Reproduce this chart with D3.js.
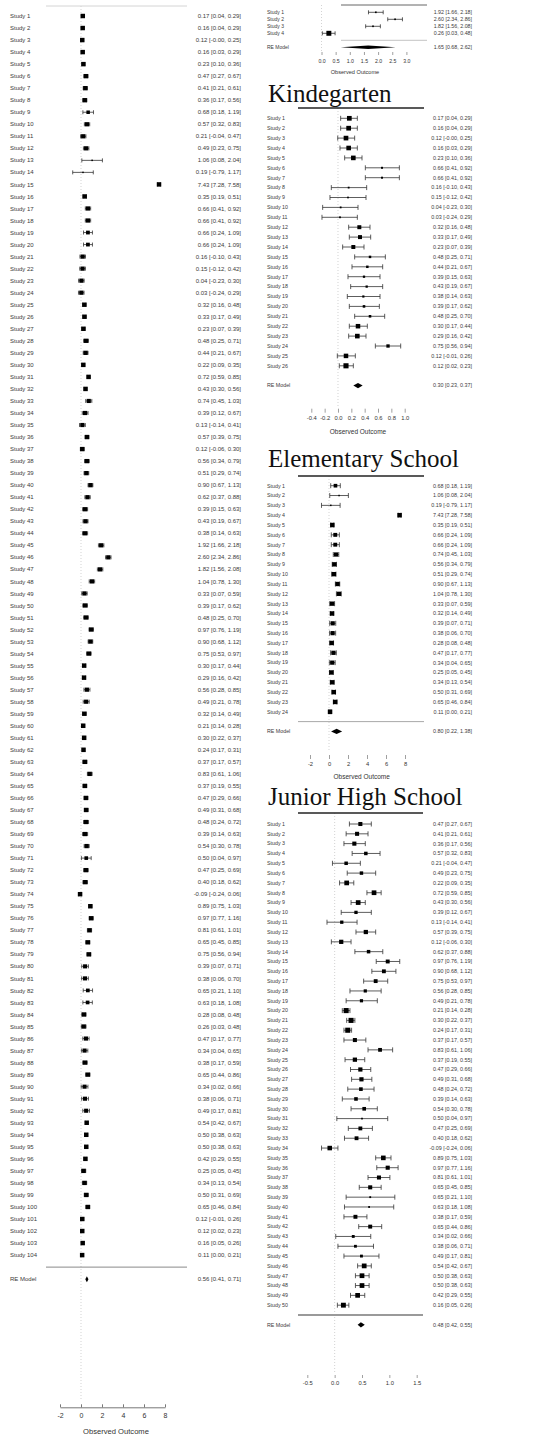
<!DOCTYPE html>
<html>
<head>
<meta charset="utf-8">
<script src="https://cdn.jsdelivr.net/npm/d3@7"></script>
<style>
  body { margin: 0; background: #fff; }
  svg { display: block; }
</style>
</head>
<body>
<svg id="chart" width="558" height="1436"></svg>
<script>
// Effect size and 95% CI for each of the 104 studies in the pooled analysis
const studyEst = [
  0.17, 0.16, 0.12, 0.16, 0.23, 0.47, 0.41, 0.36, 0.68, 0.57,
  0.21, 0.49, 1.06, 0.19, 7.43, 0.35, 0.66, 0.66, 0.66, 0.66,
  0.16, 0.15, 0.04, 0.03, 0.32, 0.33, 0.23, 0.48, 0.44, 0.22,
  0.72, 0.43, 0.74, 0.39, 0.13, 0.57, 0.12, 0.56, 0.51, 0.90,
  0.62, 0.39, 0.43, 0.38, 1.92, 2.60, 1.82, 1.04, 0.33, 0.39,
  0.48, 0.97, 0.90, 0.75, 0.30, 0.29, 0.56, 0.49, 0.32, 0.21,
  0.30, 0.24, 0.37, 0.83, 0.37, 0.47, 0.49, 0.48, 0.39, 0.54,
  0.50, 0.47, 0.40, -0.09, 0.89, 0.97, 0.81, 0.65, 0.75, 0.39,
  0.38, 0.65, 0.63, 0.28, 0.26, 0.47, 0.34, 0.38, 0.65, 0.34,
  0.38, 0.49, 0.54, 0.50, 0.50, 0.42, 0.25, 0.34, 0.50, 0.65,
  0.12, 0.12, 0.16, 0.11
];
const studyLo = [
  0.04, 0.04, -0.004, 0.03, 0.10, 0.27, 0.21, 0.17, 0.18, 0.32,
  -0.04, 0.23, 0.08, -0.79, 7.28, 0.19, 0.41, 0.41, 0.24, 0.24,
  -0.10, -0.12, -0.23, -0.24, 0.16, 0.17, 0.07, 0.25, 0.21, 0.09,
  0.59, 0.30, 0.45, 0.12, -0.14, 0.39, -0.06, 0.34, 0.29, 0.67,
  0.37, 0.15, 0.19, 0.14, 1.66, 2.34, 1.56, 0.78, 0.07, 0.17,
  0.25, 0.76, 0.68, 0.53, 0.17, 0.16, 0.28, 0.21, 0.14, 0.14,
  0.22, 0.17, 0.17, 0.61, 0.19, 0.29, 0.31, 0.24, 0.14, 0.30,
  0.04, 0.25, 0.18, -0.24, 0.75, 0.77, 0.61, 0.45, 0.56, 0.07,
  0.06, 0.21, 0.18, 0.08, 0.03, 0.17, 0.04, 0.17, 0.44, 0.02,
  0.06, 0.17, 0.42, 0.38, 0.38, 0.29, 0.05, 0.13, 0.31, 0.46,
  -0.01, 0.02, 0.05, 0.00
];
const studyHi = [
  0.29, 0.29, 0.25, 0.29, 0.36, 0.67, 0.61, 0.56, 1.19, 0.83,
  0.47, 0.75, 2.04, 1.17, 7.58, 0.51, 0.92, 0.92, 1.09, 1.09,
  0.43, 0.42, 0.30, 0.29, 0.48, 0.49, 0.39, 0.71, 0.67, 0.35,
  0.85, 0.56, 1.03, 0.67, 0.41, 0.75, 0.30, 0.79, 0.74, 1.13,
  0.88, 0.63, 0.67, 0.63, 2.18, 2.86, 2.08, 1.30, 0.59, 0.62,
  0.70, 1.19, 1.12, 0.97, 0.44, 0.42, 0.85, 0.78, 0.49, 0.28,
  0.37, 0.31, 0.57, 1.06, 0.55, 0.66, 0.68, 0.72, 0.63, 0.78,
  0.97, 0.69, 0.62, 0.06, 1.03, 1.16, 1.01, 0.85, 0.94, 0.71,
  0.70, 1.10, 1.08, 0.48, 0.48, 0.77, 0.65, 0.59, 0.86, 0.66,
  0.71, 0.81, 0.67, 0.63, 0.63, 0.55, 0.45, 0.54, 0.69, 0.84,
  0.26, 0.23, 0.26, 0.21
];

// Subgroup membership, as positions in the pooled list (1-based)
const otherStudies  = [45, 46, 47, 85];
const kinderStudies = [1, 2, 3, 4, 5, 17, 18, 21, 22, 23, 24, 25, 26, 27, 28, 29,
                       42, 43, 44, 50, 51, 55, 56, 79, 101, 102];
const elemStudies   = [9, 13, 14, 15, 16, 19, 20, 33, 38, 39, 40, 48, 49, 59,
                       80, 81, 84, 86, 87, 97, 98, 99, 100, 104];
const juniorStudies = [6, 7, 8, 10, 11, 12, 30, 31, 32, 34, 35, 36, 37, 41, 52, 53, 54,
                       57, 58, 60, 61, 62, 63, 64, 65, 66, 67, 68, 69, 70, 71, 72, 73, 74,
                       75, 76, 77, 78, 82, 83, 88, 89, 90, 91, 92, 93, 94, 95, 96, 103];
const allStudies = d3.range(1, 105);

// Random-effects model summaries: [estimate, lower, upper]
const reAll    = [0.56, 0.41, 0.71];
const reOther  = [1.65, 0.68, 2.62];
const reKinder = [0.30, 0.23, 0.37];
const reElem   = [0.80, 0.22, 1.38];
const reJunior = [0.48, 0.42, 0.55];

// Axis tick values
const ticksAll    = [-2, 0, 2, 4, 6, 8];
const ticksOther  = [0, 0.5, 1, 1.5, 2, 2.5, 3];
const ticksKinder = [-0.4, -0.2, 0, 0.2, 0.4, 0.6, 0.8, 1.0];
const ticksElem   = [-2, 0, 2, 4, 6, 8];
const ticksJunior = [-0.5, 0, 0.5, 1, 1.5];

const sectionTitles = ["Kindegarten", "Elementary School", "Junior High School"];
const axisTitle = "Observed Outcome";

const SANS = "'Liberation Sans', Arial, Helvetica, sans-serif";
const SERIF = "'Liberation Serif', 'Times New Roman', serif";
const TEXT = "#3a3a3a";

const svg = d3.select("#chart");

// Layout of each forest plot
const panels = [
  { ids: allStudies, re: reAll, domain: [-2, 8], range: [60, 165], ticks: ticksAll,
    fmt: d => String(d), y0: 16, step: 12.03, labelX: 10, valueX: 241,
    lineX: [46, 187], topY: 6, topStroke: "#d4d4d4", topWidth: 1,
    sep: { stroke: "#8a8a8a", width: 1 }, zeroY: [6, 1401],
    axisY: 1407.3, axisLine: true, tickLen: 3, tickPad: 6, tickSize: 7,
    title: { x: 116, y: 1433.5, size: 7.6 }, labelSize: 6, valueSize: 6,
    box: 3, capH: 2, diaH: 3 },
  { ids: otherStudies, re: reOther, domain: [0, 3], range: [321.5, 406.4], ticks: ticksOther,
    fmt: d => d.toFixed(1), y0: 12.3, step: 7, labelX: 267, valueX: 472,
    lineX: [341, 427], topY: 5, topStroke: "#666", topWidth: 1,
    sep: { stroke: "#c4c4c4", width: 1 }, zeroY: [5, 52],
    axisY: 55, axisLine: false, tickLen: 3, tickPad: 4.3, tickSize: 5.2,
    title: { x: 355, y: 73.6, size: 5.6 }, labelSize: 5, valueSize: 5.3,
    box: 3.3, capH: 2, diaH: 1.8 },
  { ids: kinderStudies, re: reKinder, domain: [-0.4, 1.0], range: [311.3, 404.7], ticks: ticksKinder,
    fmt: d => d.toFixed(1), y0: 118.3, step: 9.9, labelX: 267, valueX: 472,
    lineX: [298, 424], topY: 108, topStroke: "#222", topWidth: 1.3,
    sep: null, zeroY: [108, 408],
    axisY: 412.7, axisLine: false, tickLen: 4, tickPad: 3, tickSize: 5.8,
    title: { x: 358, y: 434, size: 6.5 }, labelSize: 5.3, valueSize: 5.4,
    box: 3.4, capH: 2.5, diaH: 2.6,
    heading: { text: sectionTitles[0], x: 268, y: 101.7 } },
  { ids: elemStudies, re: reElem, domain: [-2, 8], range: [310, 405], ticks: ticksElem,
    fmt: d => String(d), y0: 485.7, step: 9.83, labelX: 267, valueX: 472,
    lineX: [298, 424], topY: 476, topStroke: "#222", topWidth: 1.3,
    sep: { stroke: "#a8a8a8", width: 1 }, zeroY: [476, 752],
    axisY: 759, axisLine: false, tickLen: 4, tickPad: 2.7, tickSize: 5.8,
    title: { x: 361.7, y: 779, size: 6.5 }, labelSize: 5.3, valueSize: 5.4,
    box: 3, capH: 2.5, diaH: 2.6,
    heading: { text: sectionTitles[1], x: 268, y: 466.7 } },
  { ids: juniorStudies, re: reJunior, domain: [-0.5, 1.5], range: [307.3, 416.7], ticks: ticksJunior,
    fmt: d => d.toFixed(1), y0: 824, step: 9.82, labelX: 267, valueX: 472,
    lineX: [298, 423], topY: 813, topStroke: "#222", topWidth: 1.3,
    sep: { stroke: "#9a9a9a", width: 2 }, zeroY: [813, 1372],
    axisY: 1378, axisLine: false, tickLen: 3, tickPad: 3, tickSize: 5.8,
    title: null, labelSize: 5.3, valueSize: 5.4,
    box: 3.4, capH: 2.5, diaH: 2.6,
    heading: { text: sectionTitles[2], x: 268, y: 805 } }
];

// Number formatting used by forest-plot annotations
const num = v => (v < 0 ? "-" : "") + Math.abs(v).toFixed(2);
const annot = (e, l, h) => `${num(e)} [${num(l)}, ${num(h)}]`;

// Between-study variance implied by the pooled CI, used to size the squares
function tau2For(vi, re) {
  const se = (re[2] - re[1]) / (2 * 1.96);
  const target = 1 / (se * se);
  const f = t => d3.sum(vi, v => 1 / (v + t));
  if (f(0) <= target) return 0;
  let a = 0, b = 100;
  for (let n = 0; n < 80; n++) {
    const m = (a + b) / 2;
    if (f(m) > target) a = m; else b = m;
  }
  return (a + b) / 2;
}

panels.forEach(p => {
  const g = svg.append("g");
  const x = d3.scaleLinear().domain(p.domain).range(p.range);
  const k = p.ids.length;
  const rowY = d3.scaleLinear().domain([0, 1]).range([p.y0, p.y0 + p.step]);

  // each plot numbers its own studies 1..k
  const rows = p.ids.map((id, i) => ({
    label: "Study " + (i + 1), i,
    est: studyEst[id - 1], lo: studyLo[id - 1], hi: studyHi[id - 1]
  }));
  rows.forEach(r => { r.vi = Math.pow((r.hi - r.lo) / (2 * 1.96), 2); });
  const tau2 = tau2For(rows.map(r => r.vi), p.re);
  rows.forEach(r => { r.w = 1 / (r.vi + tau2); });
  const psize = d3.scaleLinear().domain(d3.extent(rows, r => r.w)).range([0.5, 1.5]);

  // section heading
  if (p.heading) {
    g.append("text")
      .attr("x", p.heading.x).attr("y", p.heading.y)
      .attr("font-family", SERIF).attr("font-size", 25)
      .attr("fill", "#111")
      .text(p.heading.text);
  }

  // vertical reference line at zero
  g.append("line")
    .attr("x1", x(0)).attr("x2", x(0))
    .attr("y1", p.zeroY[0]).attr("y2", p.zeroY[1])
    .attr("stroke", "#c8c8c8").attr("stroke-width", 0.8)
    .attr("stroke-dasharray", "1,2");

  // top rule
  g.append("line")
    .attr("x1", p.lineX[0]).attr("x2", p.lineX[1])
    .attr("y1", p.topY).attr("y2", p.topY)
    .attr("stroke", p.topStroke).attr("stroke-width", p.topWidth);

  // rule above the pooled estimate
  if (p.sep) {
    const yy = rowY(k);
    g.append("line")
      .attr("x1", p.lineX[0]).attr("x2", p.lineX[1])
      .attr("y1", yy).attr("y2", yy)
      .attr("stroke", p.sep.stroke).attr("stroke-width", p.sep.width);
  }

  const st = g.selectAll("g.study").data(rows).join("g").attr("class", "study");

  // confidence interval whiskers
  st.append("line")
    .attr("x1", d => x(d.lo)).attr("x2", d => x(d.hi))
    .attr("y1", d => rowY(d.i)).attr("y2", d => rowY(d.i))
    .attr("stroke", "#333").attr("stroke-width", 0.8);
  ["lo", "hi"].forEach(key => {
    st.append("line")
      .attr("x1", d => x(d[key])).attr("x2", d => x(d[key]))
      .attr("y1", d => rowY(d.i) - p.capH).attr("y2", d => rowY(d.i) + p.capH)
      .attr("stroke", "#333").attr("stroke-width", 0.8);
  });

  // weighted point estimates
  st.append("rect")
    .attr("x", d => x(d.est) - p.box * psize(d.w) / 2)
    .attr("y", d => rowY(d.i) - p.box * psize(d.w) / 2)
    .attr("width", d => p.box * psize(d.w))
    .attr("height", d => p.box * psize(d.w))
    .attr("fill", "#000");

  // study labels
  st.append("text")
    .attr("x", p.labelX).attr("y", d => rowY(d.i)).attr("dy", "0.35em")
    .attr("font-family", SANS).attr("font-size", p.labelSize).attr("fill", TEXT)
    .text(d => d.label);

  // numeric annotations
  st.append("text")
    .attr("x", p.valueX).attr("y", d => rowY(d.i)).attr("dy", "0.35em")
    .attr("text-anchor", "end")
    .attr("font-family", SANS).attr("font-size", p.valueSize).attr("fill", TEXT)
    .text(d => annot(d.est, d.lo, d.hi));

  // pooled random-effects estimate
  const yRE = rowY(k + 1);
  const [reE, reL, reH] = p.re;
  g.append("polygon")
    .attr("points", [
      [x(reL), yRE], [x(reE), yRE - p.diaH], [x(reH), yRE], [x(reE), yRE + p.diaH]
    ].map(q => q.join(",")).join(" "))
    .attr("fill", "#000");
  g.append("text")
    .attr("x", p.labelX).attr("y", yRE).attr("dy", "0.35em")
    .attr("font-family", SANS).attr("font-size", p.labelSize).attr("fill", TEXT)
    .text("RE Model");
  g.append("text")
    .attr("x", p.valueX).attr("y", yRE).attr("dy", "0.35em")
    .attr("text-anchor", "end")
    .attr("font-family", SANS).attr("font-size", p.valueSize).attr("fill", TEXT)
    .text(annot(reE, reL, reH));

  // x axis
  const axis = d3.axisBottom(x)
    .tickValues(p.ticks)
    .tickFormat(p.fmt)
    .tickSizeInner(-p.tickLen)
    .tickSizeOuter(0)
    .tickPadding(p.tickPad);
  const ax = g.append("g")
    .attr("transform", `translate(0,${p.axisY})`)
    .call(axis);
  ax.selectAll("text")
    .attr("font-family", SANS).attr("font-size", p.tickSize).attr("fill", "#333");
  ax.selectAll(".tick line").attr("stroke", p.axisLine ? "#555" : "#888").attr("stroke-width", 0.8);
  if (p.axisLine) {
    ax.select(".domain").attr("stroke", "#555").attr("stroke-width", 0.8);
  } else {
    ax.select(".domain").remove();
  }

  if (p.title) {
    g.append("text")
      .attr("x", p.title.x).attr("y", p.title.y)
      .attr("text-anchor", "middle")
      .attr("font-family", SANS).attr("font-size", p.title.size).attr("fill", "#333")
      .text(axisTitle);
  }
});
</script>
</body>
</html>
